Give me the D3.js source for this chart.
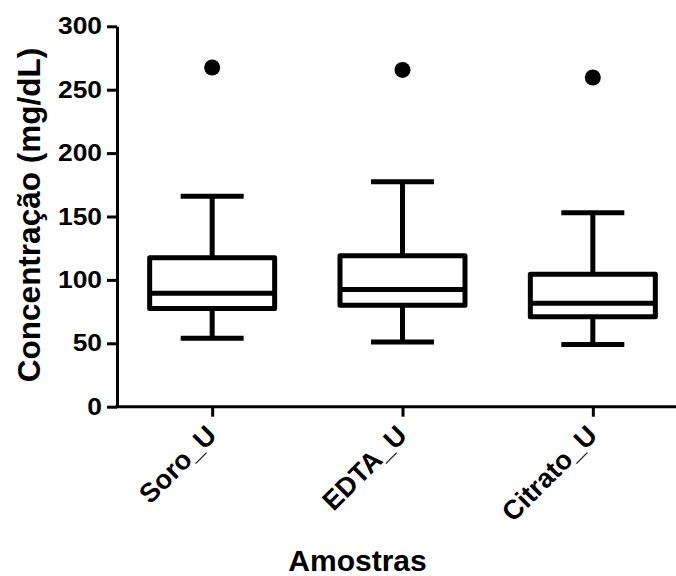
<!DOCTYPE html>
<html>
<head>
<meta charset="utf-8">
<script src="https://cdn.jsdelivr.net/npm/d3@7"></script>
<style>
  html, body { margin: 0; padding: 0; background: #fff; }
  svg { display: block; }
  text { font-family: "Liberation Sans", Arial, sans-serif; font-weight: bold; fill: #000; }
</style>
</head>
<body>
<svg id="chart" width="676" height="576"></svg>
<script>
const categories = ["Soro_U", "EDTA_U", "Citrato_U"];
const whiskerLow = [54, 51, 49];
const q1 = [77.5, 80, 71];
const median = [89.5, 92.5, 81.5];
const q3 = [117.5, 119, 104.5];
const whiskerHigh = [166, 177.5, 153];
const outliers = [267.5, 265.6, 259.6];
const yTicks = [0, 50, 100, 150, 200, 250, 300];

const svg = d3.select("#chart");
const x = d3.scalePoint().domain(categories).range([117, 688]).padding(0.5);
const y = d3.scaleLinear().domain([0, 300]).range([406.7, 26.3]);

const boxW = 125, capW = 63;
const data = categories.map((c, i) => ({c, lo: whiskerLow[i], q1: q1[i], med: median[i], q3: q3[i], hi: whiskerHigh[i], out: outliers[i]}));

const g = svg.append("g");
const box = g.selectAll("g.box").data(data).join("g").attr("class", "box");
const sw = 5;
box.append("line").attr("x1", d => x(d.c)).attr("x2", d => x(d.c))
  .attr("y1", d => y(d.q3)).attr("y2", d => y(d.hi)).attr("stroke", "#000").attr("stroke-width", sw);
box.append("line").attr("x1", d => x(d.c)).attr("x2", d => x(d.c))
  .attr("y1", d => y(d.q1)).attr("y2", d => y(d.lo)).attr("stroke", "#000").attr("stroke-width", sw);
box.append("line").attr("x1", d => x(d.c) - capW/2).attr("x2", d => x(d.c) + capW/2)
  .attr("y1", d => y(d.hi)).attr("y2", d => y(d.hi)).attr("stroke", "#000").attr("stroke-width", sw);
box.append("line").attr("x1", d => x(d.c) - capW/2).attr("x2", d => x(d.c) + capW/2)
  .attr("y1", d => y(d.lo)).attr("y2", d => y(d.lo)).attr("stroke", "#000").attr("stroke-width", sw);
box.append("rect").attr("x", d => x(d.c) - boxW/2).attr("width", boxW)
  .attr("y", d => y(d.q3)).attr("height", d => y(d.q1) - y(d.q3))
  .attr("fill", "#fff").attr("stroke", "#000").attr("stroke-width", sw).attr("stroke-linejoin", "round");
box.append("line").attr("x1", d => x(d.c) - boxW/2).attr("x2", d => x(d.c) + boxW/2)
  .attr("y1", d => y(d.med)).attr("y2", d => y(d.med)).attr("stroke", "#000").attr("stroke-width", sw);
box.append("circle").attr("cx", d => x(d.c)).attr("cy", d => y(d.out)).attr("r", 8).attr("fill", "#000");

// axes
const sx = 1.1;
const yAxis = d3.axisLeft(y).tickValues(yTicks).tickSize(10).tickSizeOuter(0).tickPadding(5);
const ya = svg.append("g").attr("transform", "translate(117,0)").call(yAxis);
ya.selectAll("path, line").attr("stroke", "#000").attr("stroke-width", 3);
ya.selectAll("text")
  .attr("font-size", 24).attr("dy", "0.32em")
  .attr("x", -15 / sx).attr("transform", `scale(${sx},1)`)
  .style("font-family", "'Liberation Sans', Arial, sans-serif").style("font-weight", "bold");

const xAxis = d3.axisBottom(x).tickSize(10).tickSizeOuter(0).tickFormat("");
const xa = svg.append("g").attr("transform", "translate(0,406.7)").call(xAxis);
xa.select("path.domain").attr("d", "M115.5,0H688");
xa.selectAll("path, line").attr("stroke", "#000").attr("stroke-width", 3);

svg.append("g").selectAll("text.xl").data(categories).join("text")
  .attr("class", "xl")
  .attr("transform", d => `translate(${x(d) + 6},437) rotate(-45)`)
  .attr("text-anchor", "end").attr("font-size", 27).text(d => d);

svg.append("text").attr("transform", "translate(40,215) rotate(-90)")
  .attr("text-anchor", "middle").attr("font-size", 31.5).text("Concentração (mg/dL)");
svg.append("text").attr("x", 357.5).attr("y", 571)
  .attr("text-anchor", "middle").attr("font-size", 30).text("Amostras");
</script>
</body>
</html>
